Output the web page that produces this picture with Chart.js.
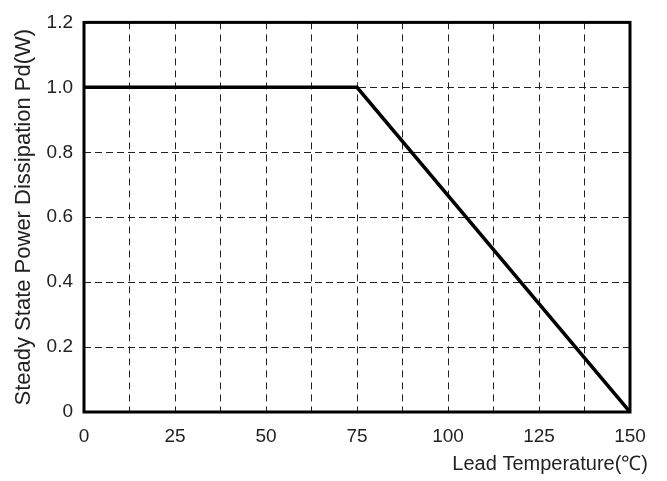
<!DOCTYPE html>
<html>
<head>
<meta charset="utf-8">
<script src="https://cdn.jsdelivr.net/npm/chart.js@4/dist/chart.umd.min.js"></script>
<style>
html,body{margin:0;padding:0;background:#fff;}
#wrap{width:667px;height:481px;position:relative;}
</style>
</head>
<body>
<div id="wrap"><canvas id="c" width="667" height="481"></canvas></div>
<script>
const temperatures = [0, 75, 150];
const powerW = [1.0, 1.0, 0];
const xTitle = 'Lead Temperature(℃)';
const yTitle = 'Steady State Power Dissipation Pd(W)';
const xMin = 0, xMax = 150, xGridStep = 12.5, xLabelStep = 25;
const yMin = 0, yMax = 1.2, yStep = 0.2;

const FONT = '"Liberation Sans", Arial, sans-serif';
const TXT = '#222';

const framePlugin = {
  id: 'frame',
  afterDatasetsDraw(chart) {
    const {ctx, chartArea: a} = chart;
    ctx.save();
    ctx.strokeStyle = '#000';
    ctx.lineWidth = 3;
    ctx.setLineDash([]);
    ctx.strokeRect(a.left, a.top, a.right - a.left, a.bottom - a.top);
    ctx.restore();
  },
  afterDraw(chart) {
    const {ctx} = chart;
    ctx.save();
    ctx.fillStyle = TXT;
    ctx.font = '20px ' + FONT;
    ctx.textAlign = 'right';
    ctx.textBaseline = 'middle';
    ctx.fillText(xTitle, 648, 464);
    ctx.restore();
  }
};

new Chart(document.getElementById('c'), {
  type: 'line',
  data: {
    datasets: [{
      data: temperatures.map((t, i) => ({x: t, y: powerW[i]})),
      borderColor: '#000',
      borderWidth: 3.5,
      pointRadius: 0,
      tension: 0,
      fill: false
    }]
  },
  options: {
    responsive: false,
    animation: false,
    layout: {padding: {top: 21, right: 37, left: 0, bottom: 0}},
    plugins: {legend: {display: false}, tooltip: {enabled: false}},
    scales: {
      x: {
        type: 'linear',
        min: xMin, max: xMax,
        afterFit(s) { s.height = 69; },
        border: {display: false, dash: [7, 5]},
        grid: {color: '#222', lineWidth: 1, drawTicks: false},
        ticks: {
          stepSize: xGridStep,
          autoSkip: false,
          maxRotation: 0,
          padding: 13,
          color: TXT,
          font: {family: FONT, size: 19},
          callback: v => (v % xLabelStep === 0 ? String(v) : '')
        }
      },
      y: {
        type: 'linear',
        min: yMin, max: yMax,
        afterFit(s) { s.width = 84; },
        border: {display: false, dash: [7, 4]},
        grid: {color: '#222', lineWidth: 1, drawTicks: false},
        ticks: {
          stepSize: yStep,
          padding: 11,
          color: TXT,
          font: {family: FONT, size: 19},
          callback: v => (Math.abs(v) < 1e-9 ? '0' : Number(v).toFixed(1))
        },
        title: {
          display: true,
          text: yTitle,
          color: TXT,
          font: {family: FONT, size: 22},
          padding: {top: 11, bottom: 0}
        }
      }
    }
  },
  plugins: [framePlugin]
});
</script>
</body>
</html>
